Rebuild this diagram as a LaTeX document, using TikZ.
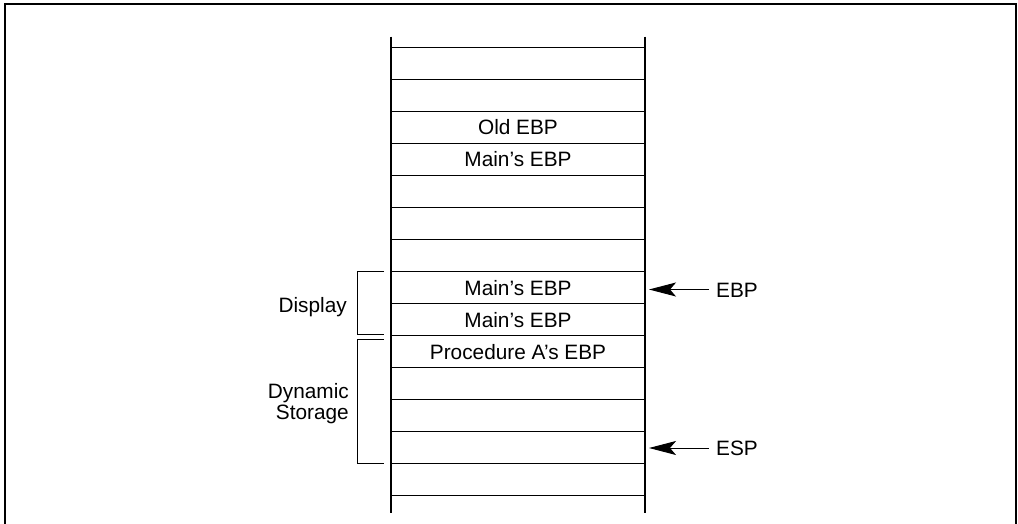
\documentclass[tikz,border=0pt]{standalone}
\usepackage{fontspec}
\setmainfont{Liberation Sans}
\usetikzlibrary{arrows.meta}

\begin{document}
\begin{tikzpicture}[x=1pt, y=-1pt, >={Stealth[length=27pt,width=14pt,inset=6pt]},
    cell/.style={font=\fontsize{20.8}{21}\selectfont, inner sep=0pt, text height=15pt, text depth=0pt},
    lbl/.style={font=\fontsize{20.8}{21}\selectfont, inner sep=0pt, align=right},
    ptr/.style={cell, inner xsep=7pt, anchor=west}]

    % Moldura (aberta embaixo)
    \useasboundingbox (0,0) rectangle (1018,524);
    \draw[line width=2pt] (5,524) -- (5,4) -- (1016,4) -- (1016,524);

    % Coordenadas da pilha
    \def\xL{391}        % parede esquerda
    \def\xR{645}        % parede direita
    \def\xC{518}        % centro das células

    % Paredes da pilha
    \draw[line width=2pt] (\xL,36.7) -- (\xL,513);
    \draw[line width=2pt] (\xR,36.7) -- (\xR,513);

    % Divisões das células
    \draw[line width=1pt] (\xL,47.5) -- (\xR,47.5);
    \draw[line width=1pt] (\xL,79.5) -- (\xR,79.5);
    \draw[line width=1pt] (\xL,111.5) -- (\xR,111.5);
    \draw[line width=1pt] (\xL,143.5) -- (\xR,143.5);
    \draw[line width=1pt] (\xL,175.5) -- (\xR,175.5);
    \draw[line width=1pt] (\xL,207.5) -- (\xR,207.5);
    \draw[line width=1pt] (\xL,239.5) -- (\xR,239.5);
    \draw[line width=1pt] (\xL,271.5) -- (\xR,271.5);
    \draw[line width=1pt] (\xL,303.5) -- (\xR,303.5);
    \draw[line width=1pt] (\xL,335.5) -- (\xR,335.5);
    \draw[line width=1pt] (\xL,367.5) -- (\xR,367.5);
    \draw[line width=1pt] (\xL,399.5) -- (\xR,399.5);
    \draw[line width=1pt] (\xL,431.5) -- (\xR,431.5);
    \draw[line width=1pt] (\xL,463.5) -- (\xR,463.5);
    \draw[line width=1pt] (\xL,495.5) -- (\xR,495.5);

    % Conteúdo das células
    \node[cell] (oldebp) at (\xC,127.5) {Old EBP};
    \node[cell] (mainebpA) at (\xC,159.5) {Main’s EBP};
    \node[cell] (mainebpB) at (\xC,287.5) {Main’s EBP};
    \node[cell] (mainebpC) at (\xC,319.5) {Main’s EBP};
    \node[cell] (procebp) at (\xC,351.5) {Procedure A’s EBP};

    % Chaves laterais
    \draw[line width=1pt] (384,271.7) -- (357,271.7) -- (357,334.3) -- (384,334.3);
    \draw[line width=1pt] (384,339) -- (357,339) -- (357,463.3) -- (384,463.3);

    % Rótulos das chaves (base = última linha)
    \node[lbl, anchor=base east] (display) at (347,312) {Display};
    \node[lbl, anchor=base east] (dynstore) at (349,419.3) {Dynamic\\Storage};

    % Ponteiros EBP e ESP
    \coordinate (ebptip) at (649,289.5);
    \coordinate (esptip) at (649,448);
    \node[ptr] (ebp) at (709,289.5) {EBP};
    \node[ptr] (esp) at (709,448) {ESP};
    \draw[->, line width=1pt] (ebp.west) -- (ebptip);
    \draw[->, line width=1pt] (esp.west) -- (esptip);

\end{tikzpicture}
\end{document}
